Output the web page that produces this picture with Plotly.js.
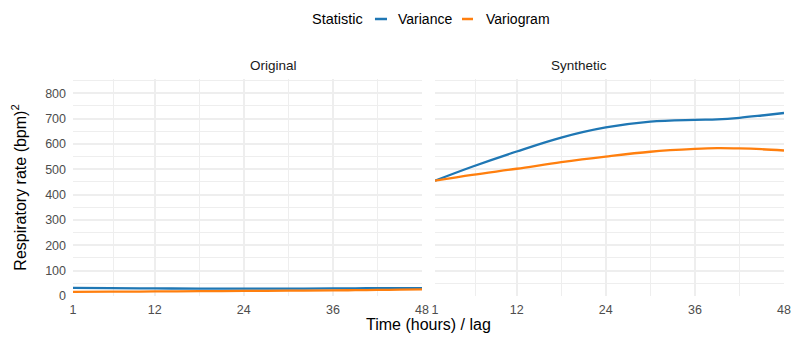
<!DOCTYPE html>
<html>
<head>
<meta charset="utf-8">
<script src="https://cdn.plot.ly/plotly-3.0.1.min.js"></script>
<style>
  html, body { margin: 0; padding: 0; background: #fff; }
  #chart { width: 793px; height: 338px; }
</style>
</head>
<body>
<div id="chart"></div>
<script>
// lag in hours
const lags = [1, 6, 12, 18, 24, 30, 36, 39, 42, 45, 48];

// Original panel
const origVariance  = [32, 31, 30, 29, 29, 29, 30, 30, 31, 31, 31];
const origVariogram = [16, 17, 18, 19, 20, 21, 22, 23, 24, 25, 26];

// Synthetic panel
const synVariance  = [455, 510, 570, 625, 665, 688, 695, 697, 703, 712, 722];
const synVariogram = [455, 478, 502, 528, 550, 569, 580, 583, 582, 579, 574];

const xTicks = [1, 12, 24, 36, 48];
const xMinor = [6.5, 18, 30, 42];
const yTicks = [0, 100, 200, 300, 400, 500, 600, 700, 800];

const statNames = ['Variance', 'Variogram'];
const blue = '#1f77b4';
const orange = '#ff7f0e';
const grid = '#eeeeee';

function line(x, y, name, color, xa) {
    return {
        x, y, name,
        type: 'scatter',
        mode: 'lines',
        line: { color: color, width: 2.3, shape: 'spline', smoothing: 1 },
        xaxis: xa, yaxis: 'y',
        showlegend: false
    };
}

const traces = [
    line(lags, origVariance, statNames[0], blue, 'x'),
    line(lags, origVariogram, statNames[1], orange, 'x'),
    line(lags, synVariance, statNames[0], blue, 'x2'),
    line(lags, synVariogram, statNames[1], orange, 'x2')
];

const xBase = {
    range: [1, 48],
    tickmode: 'array',
    tickvals: xTicks,
    ticktext: xTicks.map(String),
    showgrid: true,
    gridcolor: grid,
    gridwidth: 2,
    zeroline: false,
    showline: false,
    ticks: '',
    ticklabelstandoff: 4,
    tickfont: { size: 12.5, color: '#4d4d4d' },
    minor: { tickmode: 'array', tickvals: xMinor, showgrid: true, gridcolor: grid, gridwidth: 1 },
    fixedrange: true
};

// legend drawn by hand (ggplot style: title on the left, short keys)
const legY = 1.2765;
const legendShapes = [
    { type: 'line', xref: 'paper', yref: 'paper', x0: 0.4247, x1: 0.4416, y0: legY, y1: legY,
      line: { color: blue, width: 2.5 } },
    { type: 'line', xref: 'paper', yref: 'paper', x0: 0.5471, x1: 0.5626, y0: legY, y1: legY,
      line: { color: orange, width: 2.5 } }
];
const legendText = [
    { text: 'Statistic', x: 0.3333, size: 14.5 },
    { text: statNames[0], x: 0.4543, size: 14 },
    { text: statNames[1], x: 0.5781, size: 14 }
].map(d => ({
    text: d.text, xref: 'paper', yref: 'paper', x: d.x, y: legY,
    xanchor: 'left', yanchor: 'middle', showarrow: false,
    font: { size: d.size, color: '#000' }
}));

const layout = {
    width: 793,
    height: 338,
    margin: { l: 73, r: 9, t: 79, b: 42 },
    paper_bgcolor: '#fff',
    plot_bgcolor: '#fff',
    font: { family: 'Liberation Sans, Arial, sans-serif', color: '#000' },
    showlegend: false,
    xaxis: Object.assign({}, xBase, { domain: [0, 0.4909], anchor: 'y' }),
    xaxis2: Object.assign({}, xBase, { domain: [0.5091, 1], anchor: 'y' }),
    yaxis: {
        range: [0, 856],
        tickmode: 'array',
        tickvals: yTicks,
        showgrid: true,
        gridcolor: grid,
        gridwidth: 2,
        zeroline: false,
        ticks: '',
        ticklabelstandoff: 6,
        tickfont: { size: 12.5, color: '#4d4d4d' },
        minor: { dtick: 50, tick0: 0, showgrid: true, gridcolor: grid, gridwidth: 1 },
        title: { text: 'Respiratory rate (bpm)<sup>2</sup>', font: { size: 16 }, standoff: 14 },
        automargin: false,
        fixedrange: true
    },
    shapes: legendShapes,
    annotations: [
        { text: 'Original', xref: 'paper', yref: 'paper', x: 0.2455, y: 1.0645, yanchor: 'middle',
          showarrow: false, font: { size: 13.5, color: '#1a1a1a' } },
        { text: 'Synthetic', xref: 'paper', yref: 'paper', x: 0.7545, y: 1.0645, yanchor: 'middle',
          showarrow: false, font: { size: 13.5, color: '#1a1a1a' } },
        { text: 'Time (hours) / lag', xref: 'paper', yref: 'paper', x: 0.5, y: -0.1336, yanchor: 'middle',
          showarrow: false, font: { size: 16, color: '#000' } }
    ].concat(legendText)
};

Plotly.newPlot('chart', traces, layout, { displayModeBar: false, staticPlot: true });
</script>
</body>
</html>
